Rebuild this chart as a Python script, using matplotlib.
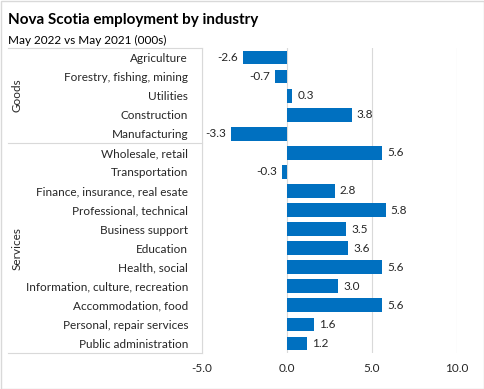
import matplotlib.pyplot as plt
import matplotlib.transforms as mtransforms
from matplotlib.patches import Rectangle

plt.rcParams['font.family'] = ['Lato', 'DejaVu Sans']

industries = ["Agriculture", "Forestry, fishing, mining", "Utilities", "Construction",
              "Manufacturing", "Wholesale, retail", "Transportation",
              "Finance, insurance, real esate", "Professional, technical",
              "Business support", "Education", "Health, social",
              "Information, culture, recreation", "Accommodation, food",
              "Personal, repair services", "Public administration"]
change = [-2.6, -0.7, 0.3, 3.8, -3.3, 5.6, -0.3, 2.8, 5.8, 3.5, 3.6, 5.6, 3.0, 5.6, 1.6, 1.2]
groups = ["Goods", "Services"]
group_sizes = [5, 11]
xticks = [-5, 0, 5, 10]

W, H = 485, 389
fig = plt.figure(figsize=(W / 100, H / 100), dpi=100)
ax = fig.add_axes([202 / W, 1 - 353 / H, 255 / W, 305 / H])

y = list(range(len(industries)))
ax.barh(y, change, height=0.72, color='#0070C0', zorder=3)
ax.set_xlim(-5, 10)
ax.set_ylim(len(industries) - 0.5, -0.5)
ax.set_yticks(y)
ax.set_yticklabels(industries, fontsize=8.5, color='#262626')
ax.set_xticks(xticks)
ax.set_xticklabels([f"{t:.1f}" for t in xticks], fontsize=8.5, color='#262626')
ax.tick_params(axis='y', length=0, pad=10)
ax.tick_params(axis='x', length=0, pad=7)
ax.grid(axis='x', color='#d9d9d9', linewidth=0.8, zorder=0)
for s in ['top', 'right', 'bottom']:
    ax.spines[s].set_visible(False)
ax.spines['left'].set_color('#d9d9d9')

for yi, v in zip(y, change):
    if v < 0:
        ax.text(v - 0.3, yi, f"{v:.1f}", ha='right', va='center', fontsize=8.5, color='#262626')
    else:
        ax.text(v + 0.3, yi, f"{v:.1f}", ha='left', va='center', fontsize=8.5, color='#262626')

# group separators and labels
trans = mtransforms.blended_transform_factory(fig.transFigure, ax.transData)
x0 = 8 / W
x1 = 202 / W
start = -0.5
for g, n in zip(groups, group_sizes):
    fig.add_artist(plt.Line2D([x0, x1], [start, start], transform=trans, color='#d9d9d9', lw=0.8))
    end = start + n
    fig.text(17 / W, (start + end) / 2, g, transform=trans, rotation=90,
             ha='center', va='center', fontsize=8.5, color='#262626')
    start = end
fig.add_artist(plt.Line2D([x0, x1], [start, start], transform=trans, color='#d9d9d9', lw=0.8))

fig.text(8 / W, 1 - 20 / H, "Nova Scotia employment by industry", fontsize=11,
         fontweight='bold', va='center', ha='left', color='black')
fig.text(8 / W, 1 - 40 / H, "May 2022 vs May 2021 (000s)", fontsize=8.5,
         va='center', ha='left', color='black')

fig.add_artist(Rectangle((0.5 / W, 0.5 / H), 1 - 1.5 / W, 1 - 1.5 / H, transform=fig.transFigure,
                         fill=False, edgecolor='#d9d9d9', lw=1))

plt.savefig('out.png', dpi=100)
